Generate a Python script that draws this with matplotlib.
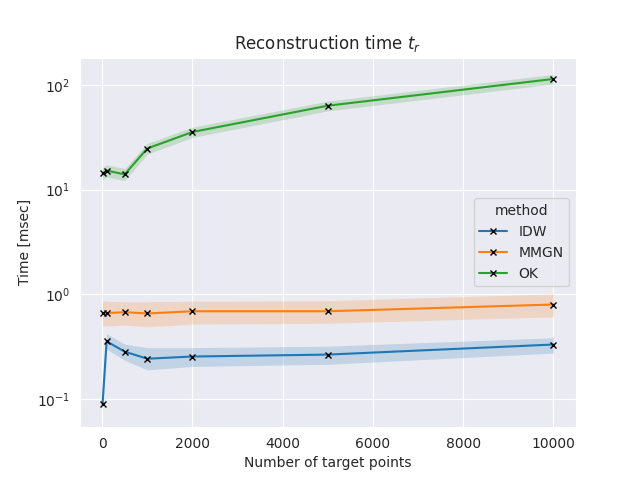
import numpy as np
import matplotlib
matplotlib.use("Agg")
import matplotlib.pyplot as plt
import seaborn as sns

sns.set_style("darkgrid")

# number of target points
n_points = [10, 100, 500, 1000, 2000, 5000, 10000]

methods = ["IDW", "MMGN", "OK"]

# mean reconstruction time [msec] and the confidence band around it
idw_mean = [0.0895, 0.356, 0.284, 0.243, 0.255, 0.266, 0.332]
idw_low = [0.078, 0.30, 0.235, 0.19, 0.205, 0.215, 0.275]
idw_high = [0.10, 0.42, 0.335, 0.31, 0.31, 0.32, 0.385]

mmgn_mean = [0.662, 0.662, 0.676, 0.657, 0.69, 0.69, 0.80]
mmgn_low = [0.50, 0.50, 0.51, 0.49, 0.52, 0.53, 0.61]
mmgn_high = [0.87, 0.86, 0.85, 0.85, 0.86, 0.87, 1.01]

ok_mean = [14.3, 15.2, 14.0, 24.7, 35.5, 63.3, 114]
ok_low = [12.3, 13.2, 12.2, 21.8, 31.5, 56.5, 102]
ok_high = [16.3, 17.2, 15.9, 27.6, 39.5, 70.0, 126]

means = [idw_mean, mmgn_mean, ok_mean]
lows = [idw_low, mmgn_low, ok_low]
highs = [idw_high, mmgn_high, ok_high]
colors = ["#1f77b4", "#ff7f0e", "#2ca02c"]

fig, ax = plt.subplots(figsize=(6.4, 4.8), dpi=100)

for name, m, lo, hi, c in zip(methods, means, lows, highs, colors):
    ax.fill_between(n_points, lo, hi, color=c, alpha=0.2, linewidth=0)
    ax.plot(n_points, m, color=c, marker="x", markeredgecolor="k",
            markersize=5, linewidth=1.5, label=name)

ax.set_yscale("log")
ax.set_xlabel("Number of target points")
ax.set_ylabel("Time [msec]")
ax.set_title("Reconstruction time $t_r$")
ax.legend(title="method", loc="center right")

fig.savefig("out.png", dpi=100)
